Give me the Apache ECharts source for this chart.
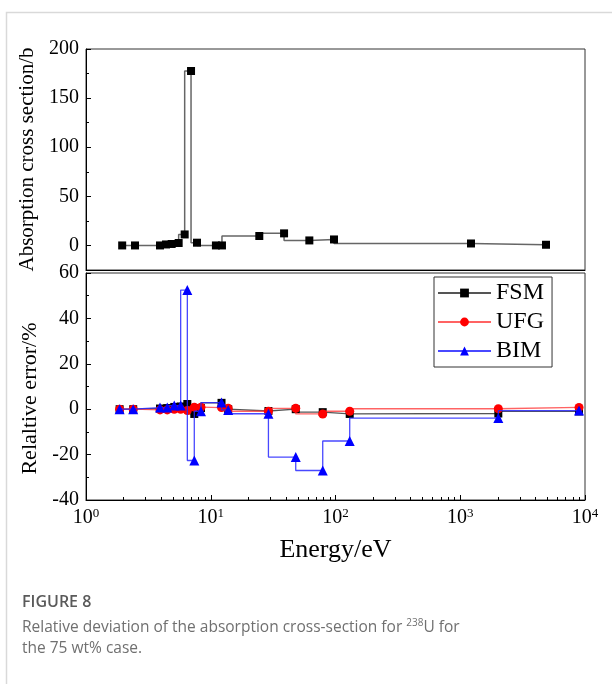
<!DOCTYPE html>
<html><head><meta charset="utf-8">
<script src="https://cdn.jsdelivr.net/npm/echarts@6/dist/echarts.min.js"></script>
<style>html,body{margin:0;padding:0;background:#fff}#c{width:612px;height:684px}</style>
</head><body><div id="c"></div>
<script>
// ---- data ----
var topE   = [1.95, 2.47, 3.92, 4.38, 4.86, 5.53, 6.18, 6.95, 7.76, 11.0, 12.3, 24.5, 38.7, 61.7, 97.3, 1220, 4870];
var topFSM = [0, 0, 0, 1.0, 1.5, 2.5, 11.2, 177.6, 2.8, 0, 0, 9.6, 12.3, 5.1, 6.1, 2.0, 0.7];

var errE   = [1.86, 2.39, 3.92, 4.48, 5.1, 5.74, 6.49, 7.38, 8.35, 12.2, 13.8, 29, 48, 79, 130, 2019, 8953];
var errFSM = [0, 0, 0.3, 0.5, 1.0, 1.2, 2.3, -2.1, 0.5, 2.8, 0, -0.8, 0, -1.3, -2.1, -1.9, -1.0];
var errUFG = [0, 0, -0.3, -0.3, 0, 0, -0.6, 0.9, 0.9, 0.7, 0.4, -0.9, 0.4, -2.1, -0.9, 0.2, 0.8];
var errBIM = [0, 0, 0.7, 0.7, 1.6, 1.6, 52.5, -22.6, -0.9, 2.9, -0.3, -2.0, -21.1, -27.0, -14.0, -3.9, -0.6];

var seriesNames = ['FSM', 'UFG', 'BIM'];
var topTicks = [0, 50, 100, 150, 200];
var topMinor = [25, 75, 125, 175];
var xMinor = [2,3,4,5,6,7,8,9,20,30,40,50,60,70,80,90,200,300,400,500,600,700,800,900,2000,3000,4000,5000,6000,7000,8000,9000];

function pairs(xs, ys){ return xs.map(function(x,i){ return [x, ys[i]]; }); }

var serif = 'Liberation Serif';
var chart = echarts.init(document.getElementById('c'), null, {renderer:'canvas'});
var axisLine = {show:true, onZero:false, lineStyle:{color:'#000', width:1}};
var hidden = {axisLine:{show:false, onZero:false}, axisTick:{show:false}, axisLabel:{show:false}, splitLine:{show:false}};
function ext(a, b){ var o = {}; for (var k in a) o[k] = a[k]; for (var k2 in b) o[k2] = b[k2]; return o; }
var topRect = {left:86, right:27, top:49, height:221};
var botRect = {left:86, right:27, top:273, bottom:184};
var option = {
  animation:false,
  textStyle:{fontFamily:serif},
  grid:[
    ext(topRect, {show:true, borderColor:'#333', borderWidth:1}),
    ext(botRect, {show:true, borderColor:'#333', borderWidth:1}),
    ext(botRect, {show:false}),
    ext(topRect, {show:false})
  ],
  xAxis:[
    {type:'log', gridIndex:0, position:'bottom', min:1, max:10000, logBase:10, axisLine:axisLine, axisTick:{show:false}, axisLabel:{show:false}, splitLine:{show:false}},
    {type:'log', gridIndex:1, position:'bottom', min:1, max:10000, logBase:10, axisLine:axisLine,
      axisTick:{show:true, inside:true, length:5, lineStyle:{color:'#000'}},
      axisLabel:{margin:7, color:'#000', fontFamily:serif, fontSize:20,
        formatter:function(v){ return '{b|10}{s|' + Math.round(Math.log10(v)) + '}'; },
        rich:{b:{fontSize:20, fontFamily:serif, color:'#000'}, s:{fontSize:13, fontFamily:serif, color:'#000', padding:[0,0,9,0]}}},
      splitLine:{show:false},
      name:'Energy/eV', nameLocation:'middle', nameGap:37,
      nameTextStyle:{fontFamily:serif, fontSize:26, color:'#000'}},
    {type:'log', gridIndex:2, position:'bottom', min:1, max:10000, logBase:10, axisLine:{show:false, onZero:false},
      axisTick:{show:true, inside:true, length:3, customValues:xMinor, lineStyle:{color:'#000'}},
      axisLabel:{show:false}, splitLine:{show:false}},
    ext(hidden, {type:'value', gridIndex:3, position:'bottom', min:0, max:1})
  ],
  yAxis:[
    {type:'value', gridIndex:0, position:'left', min:-25, max:200, axisLine:axisLine,
      axisTick:{show:true, inside:true, length:5, customValues:topTicks, lineStyle:{color:'#000'}},
      axisLabel:{customValues:topTicks, fontFamily:serif, fontSize:20, color:'#000', margin:7},
      splitLine:{show:false},
      name:'Absorption cross section/b', nameLocation:'middle', nameRotate:90, nameGap:46,
      nameTextStyle:{fontFamily:serif, fontSize:21, color:'#000'}},
    ext(hidden, {type:'value', gridIndex:2, position:'left', min:0, max:1}),
    {type:'value', gridIndex:1, position:'left', min:-40, max:60, interval:20, axisLine:axisLine,
      axisTick:{show:true, inside:true, length:5, lineStyle:{color:'#000'}},
      minorTick:{show:true, splitNumber:2, length:3, lineStyle:{color:'#000'}},
      axisLabel:{fontFamily:serif, fontSize:20, color:'#000', margin:7},
      splitLine:{show:false},
      name:'Relaltive error/%', nameLocation:'middle', nameRotate:90, nameGap:40,
      nameTextStyle:{fontFamily:serif, fontSize:22, color:'#000', padding:[0,24,0,0]}},
    {type:'value', gridIndex:3, position:'left', min:-25, max:200, axisLine:{show:false, onZero:false},
      axisTick:{show:true, inside:true, length:3, customValues:topMinor, lineStyle:{color:'#000'}},
      axisLabel:{show:false}, splitLine:{show:false}}
  ],
  legend:{
    data:seriesNames, orient:'vertical', left:434, top:277,
    backgroundColor:'#fff', borderColor:'#333', borderWidth:1, borderRadius:0,
    padding:[4,8,4,3], itemGap:5, itemWidth:53, itemHeight:11,
    textStyle:{fontFamily:serif, fontSize:24, color:'#000', lineHeight:24}
  },
  series:[
    {type:'line', name:'FSM_top', xAxisIndex:0, yAxisIndex:0, step:'start', data:pairs(topE, topFSM),
      symbol:'rect', symbolSize:8, itemStyle:{color:'#000'}, lineStyle:{color:'#666', width:1.5}},
    {type:'line', name:seriesNames[0], xAxisIndex:1, yAxisIndex:2, step:'start', data:pairs(errE, errFSM),
      symbol:'rect', symbolSize:8, itemStyle:{color:'#000'}, lineStyle:{color:'#555', width:1.3}, z:2},
    {type:'line', name:seriesNames[1], xAxisIndex:1, yAxisIndex:2, step:'start', data:pairs(errE, errUFG),
      symbol:'circle', symbolSize:9, itemStyle:{color:'#f00'}, lineStyle:{color:'rgba(255,60,60,0.8)', width:1.3}, z:3},
    {type:'line', name:seriesNames[2], xAxisIndex:1, yAxisIndex:2, step:'start', data:pairs(errE, errBIM),
      symbol:'triangle', symbolSize:10, itemStyle:{color:'#00f'}, lineStyle:{color:'rgba(40,40,255,0.85)', width:1.3}, z:4}
  ],
  graphic:[
    {type:'rect', left:4, top:10, shape:{width:640, height:700}, style:{fill:'none', stroke:'#d9d9d9', lineWidth:1.5}, silent:true},
    {type:'text', left:22, top:594, style:{text:'FIGURE 8', fontFamily:'Open Sans', fontSize:16, fontWeight:600, fill:'#5a5a5a'}},
    {type:'text', left:22, top:617, style:{
      text:'Relative deviation of the absorption cross-section for {s|238}U for\nthe 75 wt% case.',
      fontFamily:'Open Sans', fontSize:15.5, fill:'#707070', lineHeight:21,
      rich:{s:{fontSize:10, fontFamily:'Open Sans', fill:'#707070', padding:[0,0,8,0]}}}}
  ]
};
chart.setOption(option);
</script></body></html>
